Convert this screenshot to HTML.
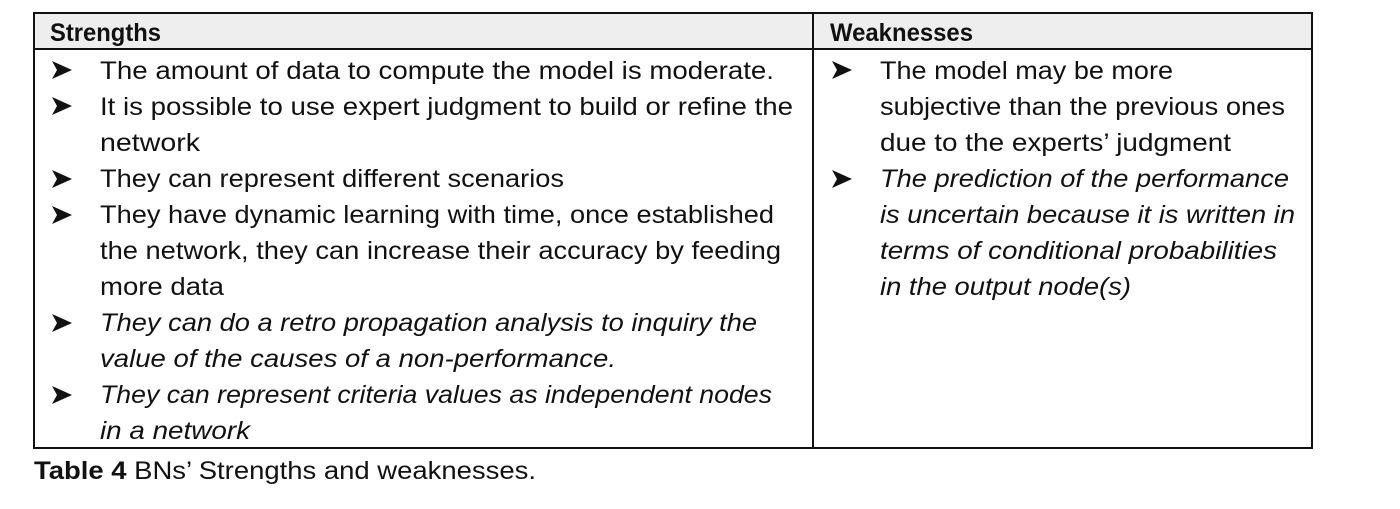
<!DOCTYPE html>
<html><head><meta charset="utf-8"><style>
html,body{margin:0;padding:0;background:#fff;width:1400px;height:509px;overflow:hidden}
svg text{font-family:"Liberation Sans",sans-serif;font-size:25px;fill:#111}
.i{font-style:italic}
.b{font-weight:bold}
</style></head><body>
<svg width="1400" height="509" xmlns="http://www.w3.org/2000/svg">
<rect x="34" y="13" width="1278" height="36" fill="#eeeeee"/>
<g stroke="#111" stroke-width="2" fill="none">
<rect x="34" y="13" width="1278" height="435"/>
<line x1="34" y1="49" x2="1312" y2="49"/>
<line x1="813" y1="13" x2="813" y2="448"/>
</g>
<text class="b" x="50" y="41" textLength="111" lengthAdjust="spacingAndGlyphs">Strengths</text>
<text class="b" x="830" y="41" textLength="143" lengthAdjust="spacingAndGlyphs">Weaknesses</text>
<g fill="#111">
<path d="M52,61 L72,70 L52,79 L57,70 Z M56,64 L69,70"/>
<path d="M52,97 L72,106 L52,115 L57,106 Z"/>
<path d="M52,170 L72,179 L52,188 L57,179 Z"/>
<path d="M52,206 L72,215 L52,224 L57,215 Z"/>
<path d="M52,314 L72,323 L52,332 L57,323 Z"/>
<path d="M52,386 L72,395 L52,404 L57,395 Z"/>
<path d="M832,61 L852,70 L832,79 L837,70 Z"/>
<path d="M832,170 L852,179 L832,188 L837,179 Z"/>
</g>
<text x="100" y="79" textLength="674" lengthAdjust="spacingAndGlyphs">The amount of data to compute the model is moderate.</text>
<text x="100" y="115" textLength="693" lengthAdjust="spacingAndGlyphs">It is possible to use expert judgment to build or refine the</text>
<text x="100" y="151" textLength="100" lengthAdjust="spacingAndGlyphs">network</text>
<text x="100" y="187" textLength="464" lengthAdjust="spacingAndGlyphs">They can represent different scenarios</text>
<text x="100" y="223" textLength="674" lengthAdjust="spacingAndGlyphs">They have dynamic learning with time, once established</text>
<text x="100" y="259" textLength="681" lengthAdjust="spacingAndGlyphs">the network, they can increase their accuracy by feeding</text>
<text x="100" y="295" textLength="124" lengthAdjust="spacingAndGlyphs">more data</text>
<text class="i" x="100" y="331" textLength="657" lengthAdjust="spacingAndGlyphs">They can do a retro propagation analysis to inquiry the</text>
<text class="i" x="100" y="367" textLength="516" lengthAdjust="spacingAndGlyphs">value of the causes of a non-performance.</text>
<text class="i" x="100" y="403" textLength="672" lengthAdjust="spacingAndGlyphs">They can represent criteria values as independent nodes</text>
<text class="i" x="100" y="439" textLength="150" lengthAdjust="spacingAndGlyphs">in a network</text>
<text x="880" y="79" textLength="293" lengthAdjust="spacingAndGlyphs">The model may be more</text>
<text x="880" y="115" textLength="405" lengthAdjust="spacingAndGlyphs">subjective than the previous ones</text>
<text x="880" y="151" textLength="351" lengthAdjust="spacingAndGlyphs">due to the experts’ judgment</text>
<text class="i" x="880" y="187" textLength="409" lengthAdjust="spacingAndGlyphs">The prediction of the performance</text>
<text class="i" x="880" y="223" textLength="415" lengthAdjust="spacingAndGlyphs">is uncertain because it is written in</text>
<text class="i" x="880" y="259" textLength="397" lengthAdjust="spacingAndGlyphs">terms of conditional probabilities</text>
<text class="i" x="880" y="295" textLength="251" lengthAdjust="spacingAndGlyphs">in the output node(s)</text>
<text x="34" y="479" textLength="502" lengthAdjust="spacingAndGlyphs"><tspan class="b" font-weight="bold">Table 4</tspan> BNs’ Strengths and weaknesses.</text>
</svg>
</body></html>
